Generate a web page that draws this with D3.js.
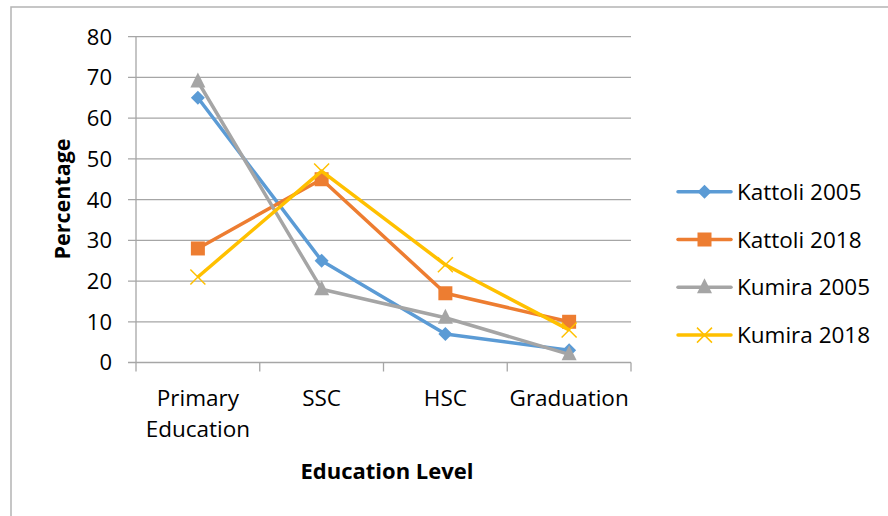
<!DOCTYPE html>
<html>
<head>
<meta charset="utf-8">
<script src="https://cdn.jsdelivr.net/npm/d3@7"></script>
<style>
  body { margin: 0; background: #fff; }
  svg { display: block; }
  text { font-family: "Open Sans", sans-serif; fill: #000; }
</style>
</head>
<body>
<svg id="chart" width="888" height="516"></svg>
<script>
const categories = [["Primary", "Education"], ["SSC"], ["HSC"], ["Graduation"]];
const categoryKeys = ["Primary Education", "SSC", "HSC", "Graduation"];
const seriesNames = ["Kattoli 2005", "Kattoli 2018", "Kumira 2005", "Kumira 2018"];
const kattoli2005 = [65, 25, 7, 3];
const kattoli2018 = [28, 45, 17, 10];
const kumira2005 = [69, 18, 11, 2];
const kumira2018 = [21, 47, 24, 8];
const yTicks = [0, 10, 20, 30, 40, 50, 60, 70, 80];
const seriesValues = [kattoli2005, kattoli2018, kumira2005, kumira2018];
const colors = ["#5b9bd5", "#ed7d31", "#a5a5a5", "#ffc000"];
const markers = ["diamond", "square", "triangle", "x"];

const svg = d3.select("#chart");
const pLeft = 136, pRight = 631, pTop = 36.7, pBottom = 362.5;

// outer border
svg.append("rect").attr("x", 11).attr("y", 7).attr("width", 900).attr("height", 530)
  .attr("fill", "none").attr("stroke", "#b4b4b4").attr("stroke-width", 1.5);

const x = d3.scaleBand().domain(categoryKeys).range([pLeft, pRight]);
const y = d3.scaleLinear().domain([0, 80]).range([pBottom, pTop]);

// gridlines
svg.append("g").selectAll("line").data(yTicks).join("line")
  .attr("x1", pLeft - 8).attr("x2", pRight)
  .attr("y1", d => y(d)).attr("y2", d => y(d))
  .attr("stroke", "#a6a6a6").attr("stroke-width", 1.3);

// y axis line
svg.append("line").attr("x1", pLeft).attr("x2", pLeft).attr("y1", pTop).attr("y2", pBottom)
  .attr("stroke", "#a6a6a6").attr("stroke-width", 1.3);

// x ticks
const xTickPos = categoryKeys.map(c => x(c)).concat([pRight]);
svg.append("g").selectAll("line").data(xTickPos).join("line")
  .attr("x1", d => d).attr("x2", d => d).attr("y1", pBottom).attr("y2", pBottom + 9)
  .attr("stroke", "#a6a6a6").attr("stroke-width", 1.3);

// y labels
svg.append("g").selectAll("text").data(yTicks).join("text")
  .attr("x", 112).attr("y", d => y(d)).attr("dy", "0.36em")
  .attr("text-anchor", "end").style("font-size", "22px").text(d => d);

// x labels
categories.forEach((lines, i) => {
  const cx = x(categoryKeys[i]) + x.bandwidth() / 2;
  const t = svg.append("text").attr("text-anchor", "middle").style("font-size", "22.5px")
    .attr("x", cx).attr("y", 406);
  lines.forEach((ln, j) => t.append("tspan").attr("x", cx).attr("dy", j === 0 ? 0 : 31).text(ln));
});

// axis titles
svg.append("text").attr("text-anchor", "middle").style("font-size", "21.5px").style("font-weight", "bold")
  .attr("transform", "translate(70,199) rotate(-90)").text("Percentage");
svg.append("text").attr("text-anchor", "middle").style("font-size", "22px").style("font-weight", "bold")
  .attr("x", 387).attr("y", 479).text("Education Level");

function drawMarker(g, type, cx, cy, color) {
  if (type === "diamond") {
    g.append("path").attr("d", `M${cx},${cy-7}L${cx+7},${cy}L${cx},${cy+7}L${cx-7},${cy}Z`).attr("fill", color);
  } else if (type === "square") {
    g.append("rect").attr("x", cx - 7).attr("y", cy - 7).attr("width", 14).attr("height", 14).attr("fill", color);
  } else if (type === "triangle") {
    g.append("path").attr("d", `M${cx},${cy-9}L${cx+7.5},${cy+6}L${cx-7.5},${cy+6}Z`).attr("fill", color);
  } else {
    g.append("path").attr("d", `M${cx-7.5},${cy-7.5}L${cx+7.5},${cy+7.5}M${cx+7.5},${cy-7.5}L${cx-7.5},${cy+7.5}`)
      .attr("stroke", color).attr("stroke-width", 1.5).attr("fill", "none");
  }
}

const line = d3.line().x((d, i) => x(categoryKeys[i]) + x.bandwidth() / 2).y(d => y(d));
seriesValues.forEach((vals, s) => {
  const g = svg.append("g");
  g.append("path").datum(vals).attr("d", line).attr("fill", "none")
    .attr("stroke", colors[s]).attr("stroke-width", 3.5).attr("stroke-linejoin", "round");
  vals.forEach((v, i) => drawMarker(g, markers[s], x(categoryKeys[i]) + x.bandwidth() / 2, y(v), colors[s]));
});

// legend
seriesNames.forEach((name, s) => {
  const ly = 191.7 + s * 47.8;
  const g = svg.append("g");
  g.append("line").attr("x1", 678).attr("x2", 731).attr("y1", ly).attr("y2", ly)
    .attr("stroke", colors[s]).attr("stroke-width", 3.5).attr("stroke-linecap", "round");
  drawMarker(g, markers[s], 704.5, ly, colors[s]);
  g.append("text").attr("x", 737).attr("y", ly).attr("dy", "0.36em").style("font-size", "22.5px").text(name);
});
</script>
</body>
</html>
